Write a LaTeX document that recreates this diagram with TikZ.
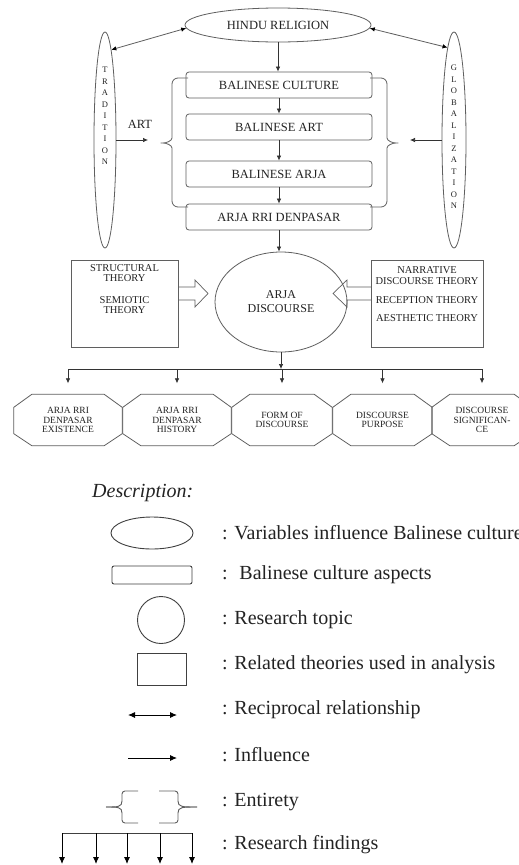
\documentclass[tikz,border=0pt]{standalone}
\usepackage{fontspec}
\setmainfont{Liberation Serif}
\usetikzlibrary{shapes.geometric,arrows.meta,calc}
\definecolor{ln}{RGB}{95,95,95}
\definecolor{tx}{RGB}{35,35,35}
\newcommand\drawoct[1]{%
  \draw[shp] ($(#1.north west)+(18,0)$) -- ($(#1.north east)+(-18,0)$) -- ($(#1.north east)+(0,13)$)
   -- ($(#1.south east)+(0,-12)$) -- ($(#1.south east)+(-18,0)$) -- ($(#1.south west)+(18,0)$)
   -- ($(#1.south west)+(0,-12)$) -- ($(#1.north west)+(0,13)$) -- cycle;}
\begin{document}
\begin{tikzpicture}[x=1pt,y=-1pt,
  shp/.style={draw=ln,line width=0.8pt},
  arr/.style={-{Latex[length=5pt,width=4.5pt]},line width=0.7pt,draw=black!80},
  darr/.style={{Latex[length=5pt,width=4.5pt,color=black]}-{Latex[length=5pt,width=4.5pt,color=black]},line width=0.8pt,draw=ln},
  larr/.style={-{Latex[length=7pt,width=6pt]},line width=0.9pt,draw=black},
  ldarr/.style={{Latex[length=7pt,width=6pt]}-{Latex[length=7pt,width=6pt]},line width=0.9pt,draw=black},
  boxn/.style={shp,rounded corners=3pt,minimum width=186pt,minimum height=26pt,inner sep=0pt,
     font=\fontsize{12.5}{14}\selectfont,text=tx},
  vtext/.style={align=center,inner sep=0pt,font=\fontsize{8.5}{11.5}\selectfont,text=tx},
  thtext/.style={align=center,inner sep=0pt,font=\fontsize{10.5}{10.5}\selectfont,text=tx},
  octn/.style={minimum height=51pt,inner sep=0pt,align=center,font=\fontsize{9.5}{9.5}\selectfont,text=tx},
  lt/.style={anchor=west,inner sep=0pt,font=\fontsize{20}{24}\selectfont,text=tx},
  lshp/.style={draw=black!75,line width=0.9pt}]
\useasboundingbox (0,0) rectangle (519,865);
\fill[white] (0,0) rectangle (519,865);

% top ellipses
\node[shp,ellipse,minimum width=186pt,minimum height=34pt,inner sep=0pt,font=\fontsize{12.5}{14}\selectfont,text=tx] (hindu) at (278,25) {HINDU RELIGION};
\node[shp,ellipse,minimum width=22pt,minimum height=216pt,inner sep=0pt] (trad) at (105,140) {};
\node[vtext] (tradt) at (105,116) {T\\R\\A\\D\\I\\T\\I\\O\\N};
\node[shp,ellipse,minimum width=24pt,minimum height=216pt,inner sep=0pt] (glob) at (454,140) {};
\node[vtext] (globt) at (454,137) {G\\L\\O\\B\\A\\L\\I\\Z\\A\\T\\I\\O\\N};

\draw[darr] (hindu.182) -- (trad.86);
\draw[darr] (hindu.358) -- (glob.94);

% culture boxes
\node[boxn] (culture) at (279,85) {BALINESE CULTURE};
\node[boxn] (art) at (279,127) {BALINESE ART};
\node[boxn] (arja) at (279,174) {BALINESE ARJA};
\node[boxn] (rri) at (279,217) {ARJA RRI DENPASAR};

\draw[arr] (hindu.south) -- (hindu.south |- culture.north);
\draw[arr] (culture) -- (art);
\draw[arr] (art) -- (arja);
\draw[arr] (arja) -- (rri);

% braces
\draw[shp,rounded corners=6pt] (188,78) -- (172,78) -- (172,132)
  .. controls (172,141) and (166,143) .. (157,143)
  .. controls (166,143) and (172,145) .. (172,154) -- (172,207) -- (188,207);
\draw[shp,rounded corners=6pt] (370,78) -- (387,78) -- (387,132)
  .. controls (387,141) and (393,143) .. (402,143)
  .. controls (393,143) and (387,145) .. (387,154) -- (387,207) -- (370,207);

\node[inner sep=0pt,font=\fontsize{12.5}{14}\selectfont,text=tx] (artl) at (140,124) {ART};
\coordinate (artend) at (148,140);
\coordinate (globend) at (410,140);
\draw[arr] (trad.east) -- (artend);
\draw[arr] (glob.west) -- (globend);

% discourse
\node[shp,ellipse,minimum width=132pt,minimum height=100pt,inner sep=0pt,align=center,
  font=\fontsize{12}{14}\selectfont,text=tx] (disc) at (281,302) {ARJA\\DISCOURSE};
\draw[arr] (rri.south) -- (rri.south |- disc.north);

\node[shp,minimum width=107pt,minimum height=87pt,inner sep=0pt] (tl) at (124.5,303.5) {};
\node[thtext] (tlt) at (124.5,289) {STRUCTURAL\\THEORY\\[11pt]SEMIOTIC\\THEORY};
\node[shp,minimum width=112pt,minimum height=87pt,inner sep=0pt] (tr) at (427,303.5) {};
\node[thtext] (trt) at (427,294) {NARRATIVE\\DISCOURSE THEORY\\[9pt]RECEPTION THEORY\\[7pt]AESTHETIC THEORY};

\draw[shp,line width=0.7pt] (178,287) -- (195,287) -- (195,280) -- (208,293.5) -- (195,307) -- (195,300) -- (178,300);
\draw[shp,line width=0.7pt] (371,287) -- (347,287) -- (347,280) -- (333,293.5) -- (347,307) -- (347,300) -- (371,300);

% findings
\node[octn,minimum width=108pt] (o1) at (68,420) {ARJA RRI\\DENPASAR\\EXISTENCE};
\node[octn,minimum width=108pt] (o2) at (177,420) {ARJA RRI\\DENPASAR\\HISTORY};
\node[octn,minimum width=100pt] (o3) at (282,420) {FORM OF\\DISCOURSE};
\node[octn,minimum width=99pt] (o4) at (382.5,420) {DISCOURSE\\PURPOSE};
\node[octn,minimum width=100pt] (o5) at (482,420) {DISCOURSE\\SIGNIFICAN-\\CE};
\drawoct{o1}\drawoct{o2}\drawoct{o3}\drawoct{o4}\drawoct{o5}

\coordinate (bar) at (281,369);
\draw[arr] (disc.south) -- (bar);
\draw[line width=0.7pt,draw=black!80] (o1.north |- bar) -- (o5.north |- bar);
\foreach \o in {o1,o2,o3,o4,o5}
  \draw[arr] (\o.north |- bar) -- ([yshift=11pt]\o.north);

% legend
\node[anchor=west,inner sep=0pt,font=\fontsize{20}{24}\selectfont\itshape,text=tx] (desc) at (92,493) {Description:};

\node[lshp,ellipse,minimum width=82pt,minimum height=32pt,inner sep=0pt] (lg1) at (152,533) {};
\node[lshp,rounded corners=2pt,minimum width=80pt,minimum height=18pt,inner sep=0pt] (lg2) at (152,575) {};
\node[lshp,circle,minimum size=47pt,inner sep=0pt] (lg3) at (161,620) {};
\node[lshp,minimum width=49pt,minimum height=32pt,inner sep=0pt] (lg4) at (161.5,669) {};
\coordinate (la1) at (128,715); \coordinate (la2) at (177,715);
\draw[ldarr] (la1) -- (la2);
\coordinate (lb1) at (128,758); \coordinate (lb2) at (177,758);
\draw[larr] (lb1) -- (lb2);
% entirety
\draw[lshp,draw=ln,rounded corners=3pt] (138,791) -- (122,791) -- (122,801);
\draw[lshp,draw=ln] (122,801) .. controls (122,807) and (118,807) .. (106,807);
\draw[lshp,draw=ln] (122,813) .. controls (122,807) and (118,807) .. (106,807);
\draw[lshp,draw=ln,rounded corners=3pt] (122,813) -- (122,823) -- (138,823);
\draw[lshp,draw=ln,rounded corners=3pt] (159,791) -- (178,791) -- (178,801);
\draw[lshp,draw=ln] (178,801) .. controls (178,807) and (182,807) .. (197,807);
\draw[lshp,draw=ln] (178,813) .. controls (178,807) and (182,807) .. (197,807);
\draw[lshp,draw=ln,rounded corners=3pt] (178,813) -- (178,823) -- (159,823);
% research findings legend
\draw[lshp] (62,833) -- (192,833);
\foreach \xx in {62,96,127,160,192}
  \draw[larr] (\xx,833) -- (\xx,864);

\node[lt] (t1) at (222,533) {: Variables influence Balinese culture};
\node[lt] (t2) at (222,575) {:~ Balinese culture aspects};
\node[lt] (t3) at (222,620) {: Research topic};
\node[lt] (t4) at (222,665) {: Related theories used in analysis};
\node[lt] (t5) at (222,710) {: Reciprocal relationship};
\node[lt] (t6) at (222,755) {: Influence};
\node[lt] (t7) at (222,802) {: Entirety};
\node[lt] (t8) at (222,845) {: Research findings};
\end{tikzpicture}
\end{document}
